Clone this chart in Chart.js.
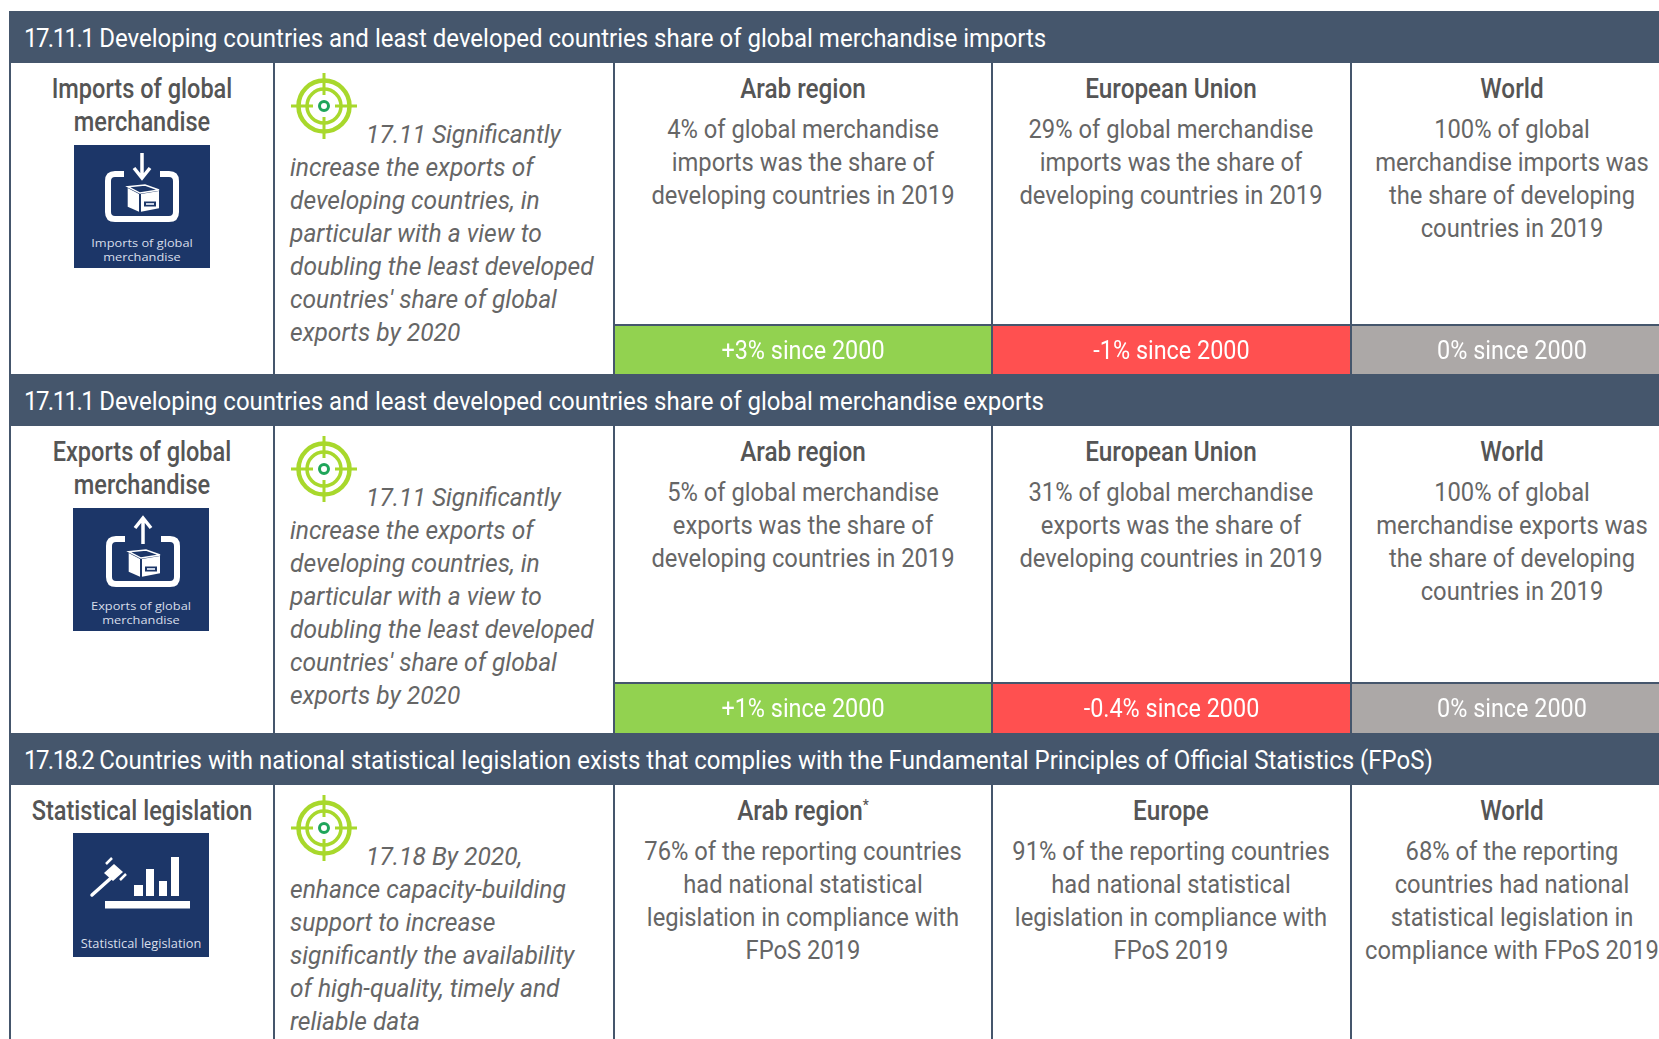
<!DOCTYPE html>
<html>
<head>
<meta charset="utf-8">
<title>SDG 17 indicators</title>
<script src="https://cdn.jsdelivr.net/npm/chart.js@4"></script>
<style>
  html, body { margin: 0; padding: 0; background: #fff; }
  #page { position: relative; width: 1659px; height: 1039px; overflow: hidden; font-family: Roboto, sans-serif; }
  .band, .rule, .cell { position: absolute; }
  .band, .rule { background: #45566c; }
  .txt { position: absolute; white-space: pre; height: 34px; line-height: 34px; }
  .txt sup { font-size: 15px; line-height: 0; }
  .title { color: #fff; font-size: 26px; transform-origin: left center; transform: scaleX(.924); }
  .title span { letter-spacing: -1.7px; }
  .head { color: #555; font-size: 27px; font-weight: 500; text-align: center; transform: scaleX(.9); }
  .headLeft { color: #555; font-size: 27px; font-weight: 500; text-align: center; transform: scaleX(.872); }
  .body { color: #666; font-size: 26px; text-align: center; transform: scaleX(.913); }
  .goal { color: #666; font-size: 26px; font-style: italic; transform-origin: left center; transform: scaleX(.945); }
  svg { position: absolute; overflow: visible; }
</style>
</head>
<body>
<div id="page"></div>
<script>
const sectionCodes = ['17.11.1', '17.11.1', '17.18.2'];
const sectionTitles = [
  'Developing countries and least developed countries share of global merchandise imports',
  'Developing countries and least developed countries share of global merchandise exports',
  'Countries with national statistical legislation exists that complies with the Fundamental Principles of Official Statistics (FPoS)'
];
const indicatorNames = [
  ['Imports of global', 'merchandise'],
  ['Exports of global', 'merchandise'],
  ['Statistical legislation']
];
const iconCaptions = [
  ['Imports of global', 'merchandise'],
  ['Exports of global', 'merchandise'],
  ['Statistical legislation']
];
const goalLines1711 = ['17.11 Significantly', 'increase the exports of', 'developing countries, in', 'particular with a view to',
  'doubling the least developed', "countries' share of global", 'exports by 2020'];
const goalLines1718 = ['17.18 By 2020,', 'enhance capacity-building', 'support to increase',
  'significantly the availability', 'of high-quality, timely and', 'reliable data'];
const regionNames = [
  ['Arab region', 'European Union', 'World'],
  ['Arab region', 'European Union', 'World'],
  ['Arab region', 'Europe', 'World']
];
const importsText = [
  ['4% of global merchandise', 'imports was the share of', 'developing countries in 2019'],
  ['29% of global merchandise', 'imports was the share of', 'developing countries in 2019'],
  ['100% of global', 'merchandise imports was', 'the share of developing', 'countries in 2019']
];
const exportsText = [
  ['5% of global merchandise', 'exports was the share of', 'developing countries in 2019'],
  ['31% of global merchandise', 'exports was the share of', 'developing countries in 2019'],
  ['100% of global', 'merchandise exports was', 'the share of developing', 'countries in 2019']
];
const legislationText = [
  ['76% of the reporting countries', 'had national statistical', 'legislation in compliance with', 'FPoS 2019'],
  ['91% of the reporting countries', 'had national statistical', 'legislation in compliance with', 'FPoS 2019'],
  ['68% of the reporting', 'countries had national', 'statistical legislation in', 'compliance with FPoS 2019']
];
// change since 2000, percentage points
const importsChange = [3, -1, 0];
const exportsChange = [1, -0.4, 0];

const page = document.getElementById('page');
const columnEdges = [614, 992, 1351, 1673];
const columnCenters = [803, 1171, 1512];
const sections = [
  { top: 11, bottom: 63, end: 374, stripTop: 326 },
  { top: 374, bottom: 426, end: 733, stripTop: 684 },
  { top: 733, bottom: 785, end: 1039, stripTop: null }
];

function addBox(cls, x, y, w, h) {
  const d = document.createElement('div');
  d.className = cls;
  d.style.cssText = `left:${x}px;top:${y}px;width:${w}px;height:${h}px`;
  page.appendChild(d);
  return d;
}

function addText(cls, html, x, centerY, w) {
  const d = document.createElement('div');
  d.className = 'txt ' + cls;
  d.style.left = x + 'px';
  d.style.top = (centerY - 17) + 'px';
  if (w) d.style.width = w + 'px';
  d.innerHTML = html;
  page.appendChild(d);
}

function changeColor(v) {
  if (v > 0) return '#92d250';
  if (v < 0) return '#ff5050';
  return '#aca8a7';
}

function changeLabel(v) {
  return (v > 0 ? '+' : '') + v + '% since 2000';
}

// one bar per cell, filling its canvas; colour and label come from the value
const cellLabel = {
  id: 'cellLabel',
  afterDatasetsDraw(chart) {
    const ctx = chart.ctx;
    const bar = chart.getDatasetMeta(0).data[0];
    ctx.save();
    ctx.translate(bar.x, chart.height / 2 + 2);
    ctx.scale(.9, 1);
    ctx.font = '26px Roboto';
    ctx.fillStyle = '#fff';
    ctx.textAlign = 'center';
    ctx.textBaseline = 'middle';
    ctx.fillText(chart.data.labels[0], 0, 0);
    ctx.restore();
  }
};

function drawChangeCell(x, y, w, h, value) {
  const holder = addBox('cell', x, y, w, h);
  const canvas = document.createElement('canvas');
  canvas.width = w;
  canvas.height = h;
  canvas.style.display = 'block';
  holder.appendChild(canvas);
  new Chart(canvas, {
    type: 'bar',
    data: {
      labels: [changeLabel(value)],
      datasets: [{ data: [1], backgroundColor: changeColor(value), barPercentage: 1, categoryPercentage: 1 }]
    },
    options: {
      responsive: false,
      animation: false,
      layout: { padding: 0 },
      plugins: { legend: { display: false }, tooltip: { enabled: false } },
      scales: {
        x: { display: false },
        y: { display: false, min: 0, max: 1 }
      }
    },
    plugins: [cellLabel]
  });
}

function svgEl(x, y, w, h, inner) {
  page.insertAdjacentHTML('beforeend',
    `<svg style="left:${x}px;top:${y}px" width="${w}" height="${h}" viewBox="0 0 ${w} ${h}">${inner}</svg>`);
}

function drawTarget(cx, cy) {
  const g = '#a8d82c';
  svgEl(cx - 34, cy - 34, 68, 68, `
    <g fill="none" stroke="${g}">
      <circle cx="34" cy="34" r="25.5" stroke-width="4.5"/>
      <circle cx="34" cy="34" r="17" stroke-width="3.5"/>
      <path d="M1 34H23M45 34H67M34 1V23M34 45V67" stroke-width="3"/>
    </g>
    <circle cx="34" cy="34" r="4.5" fill="#fff" stroke="#1fa55a" stroke-width="3"/>`);
}

function drawParcelFrame(dir) {
  const arrow = dir === 'in'
    ? '<path d="M68 8V32M60 23L68 33L76 23" fill="none" stroke="#fff" stroke-width="3.5"/>'
    : '<path d="M68 34V9M60 18L68 8L76 18" fill="none" stroke="#fff" stroke-width="3.5"/>';
  return `<g>${arrow}
    <path d="M50 29H41Q34 29 34 36V67Q34 74 41 74H95Q102 74 102 67V36Q102 29 95 29H86" fill="none" stroke="#fff" stroke-width="6"/>
    <path d="M53.7 41.7L71 40L85 45L66 48Z" fill="none" stroke="#fff" stroke-width="1.4"/>
    <path d="M53.7 43L65 49V66.7L53.7 61.7Z" fill="#fff"/>
    <path d="M67 49L85 46V63.3L67 66.7Z" fill="#fff"/>
    <rect x="70" y="56.5" width="12" height="5" fill="#1c3668"/>
    <rect x="72" y="58" width="8" height="2" fill="#c9d3e5"/></g>`;
}

function drawIcon(i, x, y, h) {
  const cap = iconCaptions[i];
  let glyph;
  if (i === 2) {
    glyph = `<path d="M19 62L38 45" stroke="#fff" stroke-width="3.5" stroke-linecap="round"/>
      <path d="M31 40L41 31L50 39L40 48Z" fill="#fff"/>
      <path d="M33 31L39 25M47 47L53 41" stroke="#fff" stroke-width="2.5"/>
      <rect x="61" y="52" width="9" height="11" fill="#fff"/><rect x="73" y="36" width="8" height="27" fill="#fff"/>
      <rect x="86" y="48" width="8" height="15" fill="#fff"/><rect x="98" y="24" width="8" height="39" fill="#fff"/>
      <rect x="32" y="68" width="85" height="7.5" fill="#fff"/>`;
  } else if (i === 0) {
    glyph = drawParcelFrame('in');
  } else {
    glyph = `<g transform="translate(2,2)">${drawParcelFrame('out')}</g>`;
  }
  const font = 'font-family="Open Sans, Noto Sans" fill="#d8deea" text-anchor="middle"';
  // two-line captions are set small and stretched so the lines stay clear of each other
  const caption = cap.length === 2
    ? `<g transform="translate(68,0) scale(1.22,1)" ${font} font-size="10.5">
         <text x="0" y="${h - 21}">${cap[0]}</text><text x="0" y="${h - 7}">${cap[1]}</text></g>`
    : `<text ${font} font-size="12.8" x="68" y="${h - 9}">${cap[0]}</text>`;
  svgEl(x, y, 136, h, `<rect width="136" height="${h}" fill="#1c3668"/>${glyph}${caption}`);
}

// frame: outer left edge, column rules, section bands
addBox('rule', 9, 11, 2, 1028);
sections.forEach(s => {
  addBox('rule', 273, s.bottom, 2, s.end - s.bottom);
  columnEdges.slice(0, 3).forEach(x => addBox('rule', x - 1, s.bottom, 2, s.end - s.bottom));
  addBox('band', 9, s.top, 1650, s.bottom - s.top);
});
sectionTitles.forEach((t, i) => addText('title', `<span>${sectionCodes[i]}</span> ${t}`, 24, sections[i].top + 27));

const sectionTexts = [importsText, exportsText, legislationText];
const sectionChanges = [importsChange, exportsChange, null];
const goalBySection = [goalLines1711, goalLines1711, goalLines1718];
const iconBoxes = [[74, 145, 123], [73, 508, 123], [73, 833, 124]];

sections.forEach((s, i) => {
  indicatorNames[i].forEach((line, j) => addText('headLeft', line, 11, s.bottom + 26 + j * 33, 262));
  drawIcon(i, iconBoxes[i][0], iconBoxes[i][1], iconBoxes[i][2]);

  drawTarget(324, s.bottom + 43);
  goalBySection[i].forEach((line, j) => addText('goal', line, j === 0 ? 366 : 290, s.bottom + 71 + j * 33));

  regionNames[i].forEach((name, c) => {
    const w = 360;
    const left = columnCenters[c] - w / 2;
    const star = i === 2 && c === 0 ? '<sup>*</sup>' : '';
    addText('head', name + star, left, s.bottom + 26, w);
    sectionTexts[i][c].forEach((line, j) => addText('body', line, left, s.bottom + 66 + j * 32.9, w));
    if (sectionChanges[i]) {
      drawChangeCell(columnEdges[c] + 1, s.stripTop, columnEdges[c + 1] - columnEdges[c] - 2, s.end - s.stripTop, sectionChanges[i][c]);
    }
  });
  if (sectionChanges[i]) addBox('rule', 613, s.stripTop - 2, 1046, 2);
});
</script>
</body>
</html>
